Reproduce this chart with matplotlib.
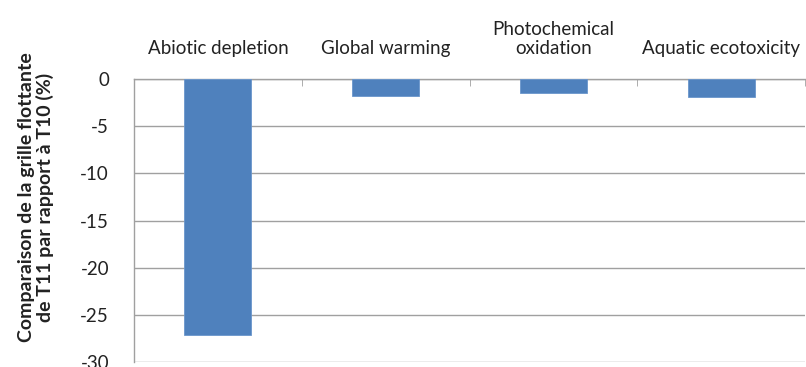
import matplotlib
matplotlib.use("Agg")
import matplotlib.pyplot as plt
import numpy as np

categories = ["Abiotic depletion", "Global warming", "Photochemical\noxidation", "Aquatic ecotoxicity"]
values = [-27.1, -1.8, -1.45, -1.9]
yticks = [0, -5, -10, -15, -20, -25, -30]

plt.rcParams['font.family'] = ['Lato', 'DejaVu Sans']

fig = plt.figure(figsize=(8.06, 3.67), dpi=100)
ax = fig.add_axes([134/806, 1-362/367, (805-134)/806, (362-79)/367])

x = np.arange(len(categories))
ax.bar(x, values, width=0.4, color="#4F81BD", edgecolor="#6A96CC", linewidth=0.6, zorder=3)

ax.set_xlim(-0.5, len(categories)-0.5)
ax.set_ylim(-30, 0)
ax.set_yticks(yticks)
ax.set_yticklabels([str(v) for v in yticks], fontsize=13.5, color="#222222")
ax.tick_params(axis='y', length=0, pad=18)
ax.yaxis.grid(True, color="#A0A0A0", linewidth=1.0, zorder=0)

ax.xaxis.tick_top()
ax.set_xticks(x)
ax.set_xticklabels(categories, fontsize=13.5, color="#222222", linespacing=1.1)
ax.tick_params(axis='x', which='major', length=0, pad=16)
ax.set_xticks(np.arange(-0.5, len(categories), 1.0), minor=True)
ax.tick_params(axis='x', which='minor', length=5, direction='in', color="#A0A0A0", top=True, bottom=False)

for side in ['right', 'bottom']:
    ax.spines[side].set_visible(False)
for side in ['left', 'top']:
    ax.spines[side].set_color("#A0A0A0")
    ax.spines[side].set_linewidth(1.0)

ax.set_ylabel("Comparaison de la grille flottante\nde T11 par rapport à T10 (%)",
              fontsize=14, fontweight='bold', color="#222222", linespacing=1.1, va='center')
ax.yaxis.set_label_coords((36-134)/671, (362-197)/283)

fig.savefig("out.png", dpi=100)
